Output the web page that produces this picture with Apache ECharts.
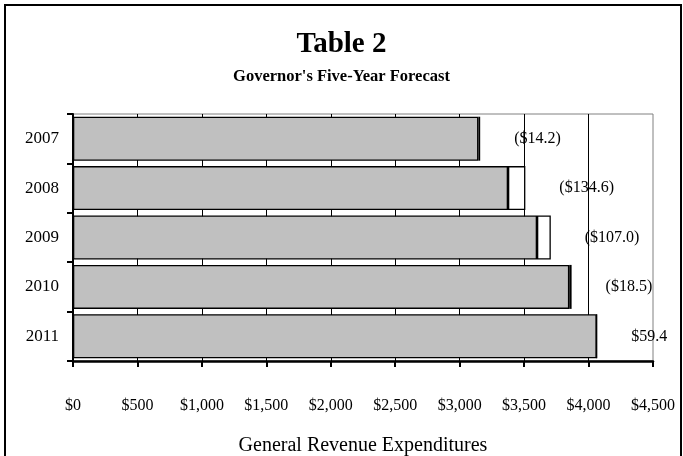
<!DOCTYPE html>
<html>
<head>
<meta charset="utf-8">
<script src="https://cdn.jsdelivr.net/npm/echarts@6/dist/echarts.min.js"></script>
<style>
html,body{margin:0;padding:0;background:#fff;}
#chart{width:683px;height:456px;}
</style>
</head>
<body>
<div id="chart"></div>
<script>
// ---- data ----
const years = ['2007', '2008', '2009', '2010', '2011'];
const baseValues = [3145, 3375, 3600, 3850, 4063];
const gapValues = [-14.2, -134.6, -107.0, -18.5, 59.4];
const xMin = 0, xMax = 4500, xStep = 500;
const titleText = 'Table 2';
const subtitleText = "Governor's Five-Year Forecast";
const xAxisTitle = 'General Revenue Expenditures';

// white segment shows shortfalls (negative gaps)
const shortfall = gapValues.map(v => v < 0 ? -v : 0);
const fmtGap = v => v < 0 ? '($' + (-v).toFixed(1) + ')' : '$' + v.toFixed(1);
const fmtMoney = v => '$' + v.toLocaleString('en-US');

const FONT = '"Liberation Serif", "Times New Roman", serif';
const chart = echarts.init(document.getElementById('chart'), null, {renderer: 'canvas'});
chart.setOption({
  animation: false,
  backgroundColor: '#fff',
  title: {
    text: titleText,
    subtext: subtitleText,
    left: 'center',
    top: 25,
    itemGap: 9,
    textStyle: {fontFamily: FONT, fontSize: 29, fontWeight: 'bold', color: '#000'},
    subtextStyle: {fontFamily: FONT, fontSize: 16.5, fontWeight: 'bold', color: '#000'}
  },
  graphic: [{
    type: 'rect',
    shape: {x: 5, y: 5, width: 676, height: 460},
    style: {fill: 'none', stroke: '#000', lineWidth: 2},
    silent: true, z: 100
  }],
  grid: {
    left: 73, right: 30, top: 114, bottom: 95,
    containLabel: false, outerBoundsMode: 'none',
    show: true, borderColor: '#808080', borderWidth: 1, backgroundColor: 'transparent'
  },
  xAxis: {
    type: 'value', min: xMin, max: xMax, interval: xStep,
    axisLine: {show: true, lineStyle: {color: '#000', width: 2.5}},
    axisTick: {show: true, length: 6, lineStyle: {color: '#000', width: 2}},
    axisLabel: {formatter: fmtMoney, fontFamily: FONT, fontSize: 16, color: '#000', margin: 37},
    splitLine: {show: true, showMinLine: false, showMaxLine: false, lineStyle: {color: '#000', width: 1}},
    name: xAxisTitle, nameLocation: 'middle', nameGap: 75,
    nameTextStyle: {fontFamily: FONT, fontSize: 20, color: '#000'}
  },
  yAxis: {
    type: 'category', data: years, inverse: true,
    axisLine: {show: true, lineStyle: {color: '#000', width: 2}},
    axisTick: {show: true, length: 6, lineStyle: {color: '#000', width: 2}},
    axisLabel: {fontFamily: FONT, fontSize: 17, color: '#000', margin: 14},
    splitLine: {show: false}
  },
  series: [{
    type: 'bar', stack: 'total', data: baseValues, barCategoryGap: '11%',
    itemStyle: {color: '#C0C0C0', borderColor: '#000', borderWidth: 1.3},
    silent: true
  }, {
    type: 'bar', stack: 'total', data: shortfall,
    itemStyle: {color: '#fff', borderColor: '#000', borderWidth: 1.3},
    label: {
      show: true, position: 'right', distance: 34,
      formatter: p => fmtGap(gapValues[p.dataIndex]),
      fontFamily: FONT, fontSize: 16, color: '#000'
    },
    silent: true
  }]
});
</script>
</body>
</html>
